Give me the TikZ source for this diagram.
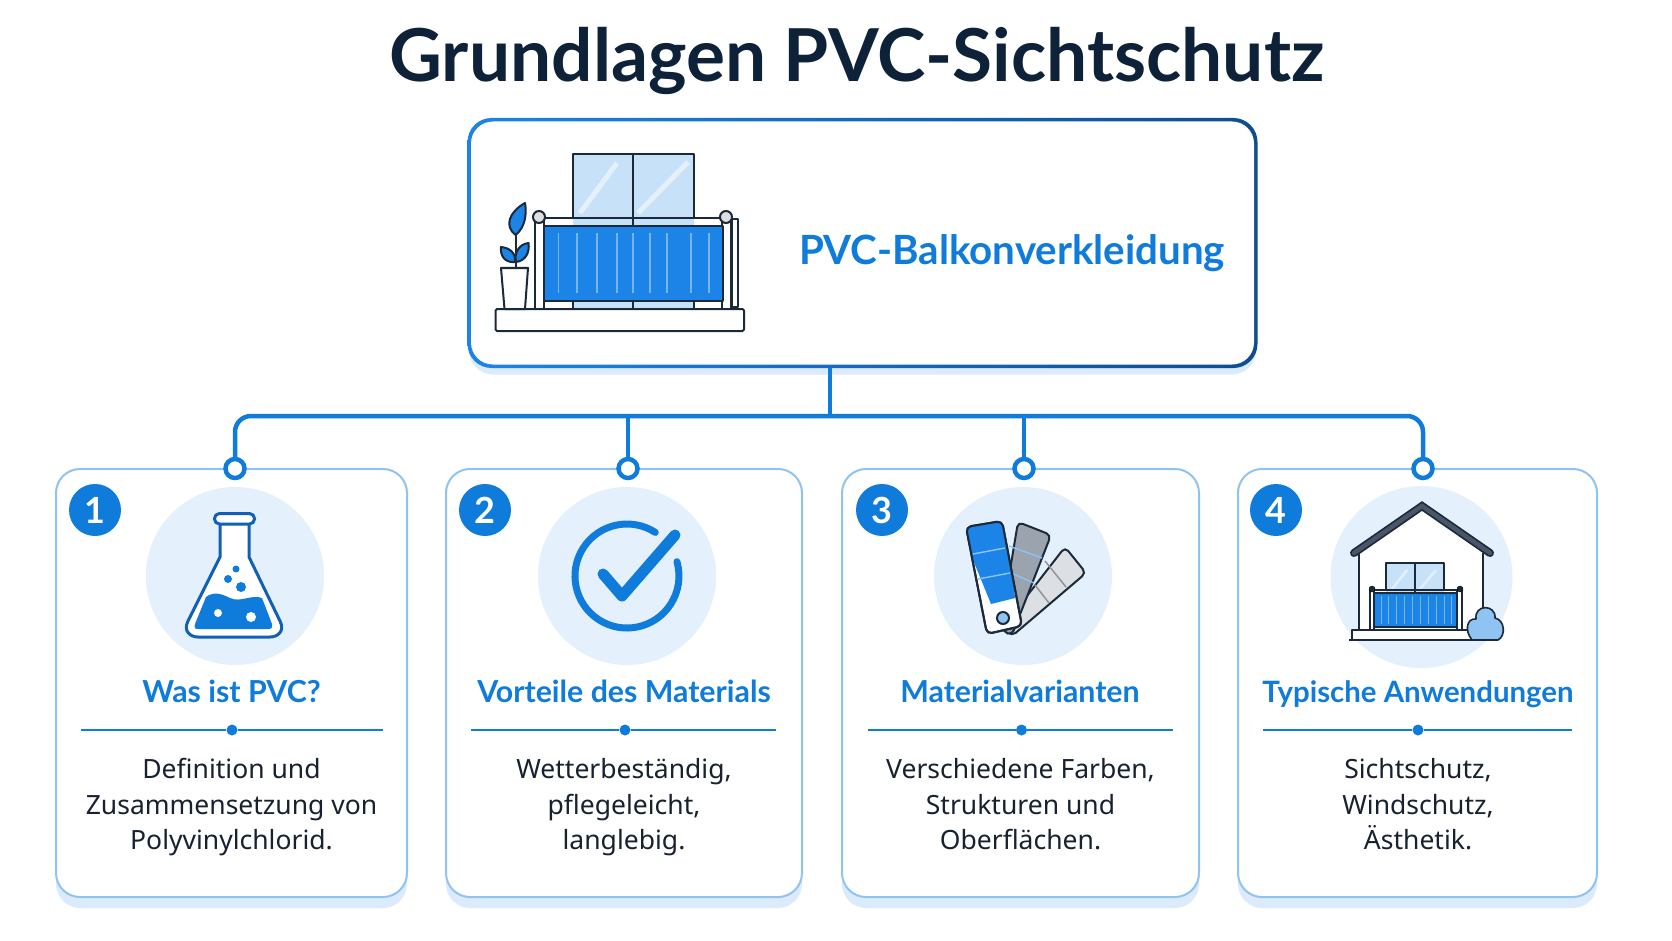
\documentclass[tikz,border=0pt]{standalone}
\usepackage{fontspec}
\setmainfont{Noto Sans}[BoldFont={Lato Bold}]
\usetikzlibrary{calc}
\definecolor{ink}{HTML}{0D2238}
\definecolor{bodyink}{HTML}{17212F}
\definecolor{brand}{HTML}{0F7BDB}
\definecolor{brandfill}{HTML}{1C84E6}
\definecolor{deep}{HTML}{1160B5}
\definecolor{edge}{HTML}{8FC3F1}
\definecolor{halo}{HTML}{E4F1FC}
\definecolor{under}{HTML}{DCEBFB}
\definecolor{glass}{HTML}{C6E1F8}
\definecolor{glasslite}{HTML}{E4F1FC}
\definecolor{line}{HTML}{1B2A3A}
\definecolor{swatchmid}{HTML}{9AA3AE}
\definecolor{swatchlite}{HTML}{DCDFE3}
\definecolor{roof}{HTML}{4A5568}
\tikzset{
  x=1pt,y=-1pt,
  frame/.style={rectangle,rounded corners=24pt,inner sep=0pt,outer sep=0pt},
  cardbox/.style={frame,draw=edge,line width=2pt,fill=white},
  cardunder/.style={frame,fill=under},
  badge/.style={circle,fill=brand,text=white,minimum size=52pt,inner sep=0pt,font=\fontsize{36}{36}\selectfont\bfseries},
  haloc/.style={circle,fill=halo,minimum size=178pt,inner sep=0pt},
  joint/.style={circle,draw=brand,line width=4.5pt,fill=white,minimum size=19pt,inner sep=0pt,outer sep=0pt},
  wire/.style={draw=brand,line width=4.5pt,rounded corners=16pt},
  rule/.style={draw=brand,line width=1.6pt},
  ruledot/.style={circle,fill=brand,minimum size=11pt,inner sep=0pt},
  cardtitle/.style={anchor=base,text=brand,font=\fontsize{30.3}{33}\selectfont\bfseries},
  cardtext/.style={text=bodyink,align=center,font=\fontsize{26.5}{35.5}\selectfont,
    execute at begin node=\strut,execute at end node=\strut},
  outline/.style={draw=line,line width=2pt,line join=round},
  flask/.style={draw=deep,line width=3pt,line join=round}
}
\begin{document}
\begin{tikzpicture}
\useasboundingbox[fill=white] (0,0) rectangle (1672,941);

\node[anchor=base,text=ink,font=\fontsize{73}{76}\selectfont\bfseries] (heading) at (857,82) {Grundlagen PVC-Sichtschutz};

% main panel: shaded ring made of two stacked frames
\node[frame,fill=under,minimum width=787pt,minimum height=247pt] (mainunder) at (862.5,251) {};
\node[frame,left color=brandfill,middle color=brand,right color=deep!80!black,minimum width=790pt,minimum height=250pt] (main) at (862.5,243) {};
\node[frame,fill=white,rounded corners=22pt,minimum width=783pt,minimum height=243pt] (maininner) at (main.center) {};
\node[anchor=base,text=brand,font=\fontsize{40.3}{44}\selectfont\bfseries] (maintitle) at (1012,265) {PVC-Balkonverkleidung};

% balcony with window, cladding and plant
\fill[glass] (573,154) rectangle (693.5,309);
\draw[glasslite,line width=5pt] (580,213) -- (617,163) (638,213) -- (688,162);
\draw[outline] (573,218) |- (693.5,154) -- (693.5,218) (633,154) -- (633,226) (573,301) -- (573,309) (633,301) -- (633,309) (693.5,301) -- (693.5,309);
\draw[outline] (539,218) -- (726,218);
\filldraw[fill=white,outline] (535,217) rectangle (544,309);
\filldraw[fill=white,outline] (722,217) rectangle (731,309);
\filldraw[fill=white,outline] (732,219) rectangle (738,307);
\filldraw[fill=gray!25,outline] (539,217) circle[radius=6pt];
\filldraw[fill=gray!25,outline] (726,217) circle[radius=6pt];
\filldraw[fill=brandfill,outline] (544,226) rectangle (723,301);
\foreach \sx in {558.5,577,597,617,633,650,667,691,709}
  \draw[white,opacity=.4,line width=1.8pt] (\sx,233) -- (\sx,293);
\filldraw[fill=white,outline,rounded corners=1.5pt] (495.5,309) rectangle (744,331);
\filldraw[fill=white,outline] (501,268) -- (528,268) -- (525,309) -- (504.5,309) -- cycle;
\draw[outline] (515.5,268) -- (515.5,225);
\filldraw[fill=brandfill,outline] (525,203) .. controls (509,212) and (504,226) .. (515.5,235) .. controls (525,228) and (527,214) .. (525,203) -- cycle;
\filldraw[fill=brandfill,outline] (501,247) .. controls (500,256) and (505,263) .. (515,262) .. controls (516,253) and (510,248) .. (501,247) -- cycle;
\filldraw[fill=brandfill,outline] (528.5,243) .. controls (519,244) and (514,253) .. (516,262) .. controls (525,261) and (530,253) .. (528.5,243) -- cycle;

% first card
\node[cardunder,minimum width=351pt,minimum height=430pt] (under1) at (231.5,693) {};
\node[cardbox,minimum width=351pt,minimum height=428pt] (card1) at (231.5,683) {};
\node[haloc] (halo1) at (235,576) {};
\node[badge] (badge1) at (95,510) {1};
\fill[white] (220,524) -- (220,557) -- (188,621) .. controls (183,631) and (190,637) .. (198,637) -- (270,637) .. controls (278,637) and (285,631) .. (280,621) -- (249,557) -- (249,524) -- cycle;
\fill[brand] (206,597) .. controls (214,591) and (222,594) .. (230,598) .. controls (240,603) and (252,594) .. (262,598) -- (272,624) .. controls (273,628) and (271,629) .. (268,629) -- (198,629) .. controls (195,629) and (194,628) .. (195,624) -- cycle;
\fill[white] (218,613) circle[radius=4pt] (251,617) circle[radius=5pt];
\fill[brand] (236,569) circle[radius=3.5pt] (228,579) circle[radius=4pt] (241,587) circle[radius=5pt];
\draw[flask] (220,524) -- (220,557) -- (188,621) .. controls (183,631) and (190,637) .. (198,637) -- (270,637) .. controls (278,637) and (285,631) .. (280,621) -- (249,557) -- (249,524);
\draw[flask,fill=white,rounded corners=5pt] (214.5,513.5) rectangle (254.5,524);

% second card
\node[cardunder,minimum width=356pt,minimum height=430pt] (under2) at (624,693) {};
\node[cardbox,minimum width=356pt,minimum height=428pt] (card2) at (624,683) {};
\node[haloc] (halo2) at (627,576) {};
\node[badge] (badge2) at (485,510) {2};
\draw[brand,line width=7pt,line cap=round] (655.3,532.4) arc[start angle=57,end angle=376,radius=52pt];
\draw[brand,line width=11pt,line cap=round,line join=round] (603,574) -- (622,596) -- (675,535);

% third card
\node[cardunder,minimum width=357pt,minimum height=430pt] (under3) at (1020.5,693) {};
\node[cardbox,minimum width=357pt,minimum height=428pt] (card3) at (1020.5,683) {};
\node[haloc] (halo3) at (1023,576) {};
\node[badge] (badge3) at (882,510) {3};
\filldraw[fill=swatchlite,outline,rounded corners=5pt] (1065,547) -- (1086,573) -- (1012,636) -- (1002,628) -- cycle;
\draw[gray!85,line width=1.5pt] (1045,561) -- (1066,587) (1035,585) -- (1049,603);
\filldraw[fill=swatchmid,outline,rounded corners=5pt] (1018,522) -- (1051,535) -- (1012,635) -- (1003,632) -- (1005,600) -- cycle;
\draw[edge,line width=1.4pt] (1009,546) -- (1042,558) (1004,570) -- (1034,583);
\filldraw[fill=white,outline,rounded corners=5pt] (966,527) -- (1002,521) -- (1022,626) -- (987,634) -- cycle;
\begin{scope}
  \clip[rounded corners=5pt] (966,527) -- (1002,521) -- (1022,626) -- (987,634) -- cycle;
  \fill[brandfill] (960,528) -- (1008,519) -- (1015,598) -- (991,604) -- cycle;
\end{scope}
\draw[outline,rounded corners=5pt] (966,527) -- (1002,521) -- (1022,626) -- (987,634) -- cycle;
\draw[edge,line width=1.4pt] (973,554) -- (1005,548) (978,579) -- (1010,573);
\filldraw[fill=edge,outline] (1003,618) circle[radius=6pt];

% fourth card
\node[cardunder,minimum width=359pt,minimum height=430pt] (under4) at (1417.5,693) {};
\node[cardbox,minimum width=359pt,minimum height=428pt] (card4) at (1417.5,683) {};
\node[haloc,minimum size=182pt] (halo4) at (1421.5,577) {};
\node[badge] (badge4) at (1276,510) {4};
\fill[white] (1359,553) -- (1422,509) -- (1483,553) -- (1483,630) -- (1359,630) -- cycle;
\fill[glass] (1386,563) rectangle (1444,593);
\draw[glasslite,line width=2.5pt] (1392,589) -- (1407,570) (1420,589) -- (1436,570);
\draw[outline,line width=1.6pt] (1386,590) |- (1444,563) -- (1444,590) (1415,563) -- (1415,593);
\draw[outline,line width=1.6pt] (1359,553) -- (1359,630) (1483,553) -- (1483,612);
\draw[line,line width=8pt,line cap=round,line join=miter] (1354,553) -- (1422,506) -- (1490,553);
\draw[roof,line width=4.5pt,line cap=round,line join=miter] (1354,553) -- (1422,506) -- (1490,553);
\draw[outline,line width=1.6pt] (1372,590) -- (1460,590);
\filldraw[fill=white,outline,line width=1.6pt] (1370,590) rectangle (1374,630);
\filldraw[fill=white,outline,line width=1.6pt] (1457,590) rectangle (1462,630);
\filldraw[fill=line] (1372,589) circle[radius=3pt] (1460,589) circle[radius=3pt];
\filldraw[fill=brandfill,outline,line width=1.6pt] (1374,593) rectangle (1457,627);
\foreach \sx in {1381,1388,1396,1404,1412,1420,1428,1436,1444,1451}
  \draw[white,opacity=.4,line width=1pt] (\sx,596) -- (\sx,624);
\filldraw[fill=white,outline,line width=1.6pt] (1352,630) rectangle (1471,640);
\filldraw[fill=edge,outline,line width=1.6pt] (1472,640) .. controls (1464,630) and (1467,618) .. (1476,619) .. controls (1474,604) and (1496,604) .. (1495,618) .. controls (1505,620) and (1506,636) .. (1498,640) -- cycle;
\draw[outline,line width=2pt] (1349,640) -- (1498,640);

% connectors
\coordinate (hub) at (830,416);
\node[joint] (joint1) at (235,468.5) {};
\node[joint] (joint2) at (628,468.5) {};
\node[joint] (joint3) at (1024,468.5) {};
\node[joint] (joint4) at (1423,468.5) {};
\draw[wire] (main.south -| hub) -- (hub);
\draw[wire] (joint1.north) -- (joint1.north |- hub) -- (joint4.north |- hub) -- (joint4.north);
\draw[wire] (joint2.north) -- (joint2.north |- hub);
\draw[wire] (joint3.north) -- (joint3.north |- hub);

% card captions
\node[cardtitle] (title1) at (231.5,702) {Was ist PVC?};
\node[cardtitle] (title2) at (624,702) {Vorteile des Materials};
\node[cardtitle] (title3) at (1020,702) {Materialvarianten};
\node[cardtitle,font=\fontsize{29.4}{33}\selectfont\bfseries] (title4) at (1418,702) {Typische Anwendungen};

\node[ruledot] (dot1) at (232,730) {};
\node[ruledot] (dot2) at (625,730) {};
\node[ruledot] (dot3) at (1021.5,730) {};
\node[ruledot] (dot4) at (1418,730) {};
\coordinate (r1a) at (81,730); \coordinate (r1b) at (383,730);
\coordinate (r2a) at (471,730); \coordinate (r2b) at (776,730);
\coordinate (r3a) at (868,730); \coordinate (r3b) at (1173,730);
\coordinate (r4a) at (1263,730); \coordinate (r4b) at (1572,730);
\draw[rule] (r1a) -- (dot1) -- (r1b);
\draw[rule] (r2a) -- (dot2) -- (r2b);
\draw[rule] (r3a) -- (dot3) -- (r3b);
\draw[rule] (r4a) -- (dot4) -- (r4b);

\node[cardtext] (text1) at (231.5,809.5) {Definition und\\Zusammensetzung von\\Polyvinylchlorid.};
\node[cardtext] (text2) at (624,809.5) {Wetterbeständig,\\pflegeleicht,\\langlebig.};
\node[cardtext] (text3) at (1020.5,809.5) {Verschiedene Farben,\\Strukturen und\\Oberflächen.};
\node[cardtext] (text4) at (1418,809.5) {Sichtschutz,\\Windschutz,\\Ästhetik.};
\end{tikzpicture}
\end{document}
